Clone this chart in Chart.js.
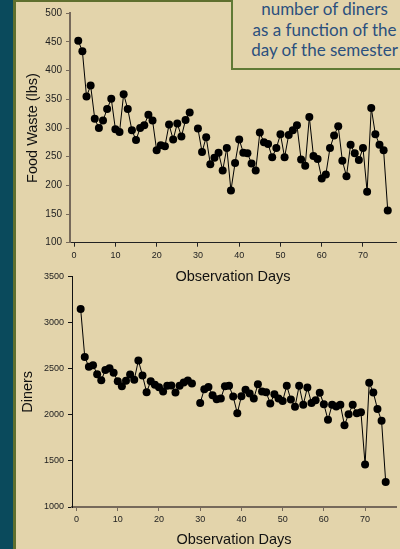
<!DOCTYPE html>
<html>
<head>
<meta charset="utf-8">
<script src="https://cdn.jsdelivr.net/npm/chart.js@4.4.1/dist/chart.umd.min.js"></script>
<style>
  body { margin: 0; width: 400px; height: 549px; background: #e3d4ab; position: relative; overflow: hidden; }
  #strip { position: absolute; left: 0; top: 0; width: 13px; height: 549px; background: #0a4a5c; }
  #stripLine { position: absolute; left: 13px; top: 0; width: 3px; height: 549px; background: #5f6f2e; }
  #topLine { position: absolute; left: 13px; top: 0; width: 220px; height: 2px; background: #5f6f2e; }
  #note { position: absolute; left: 231px; top: -12px; width: 180px; height: 78px; border: 2px solid #607a35; background: #e3d4ab; }
  #noteText { position: absolute; left: 239px; top: -1px; width: 171px; text-align: center; white-space: nowrap;
    font-family: Lato, "Open Sans", sans-serif; font-size: 17px; line-height: 20.5px; color: #2b507e; }
  canvas { position: absolute; left: 0; }
  #wasteChart { top: 0; }
  #dinersChart { top: 260px; }
</style>
</head>
<body>
<div id="strip"></div>
<div id="stripLine"></div>
<div id="topLine"></div>
<div id="note"></div>
<div id="noteText">number of diners<br>as a function of the<br>day of the semester</div>
<canvas id="wasteChart" width="400" height="290"></canvas>
<canvas id="dinersChart" width="400" height="289"></canvas>
<script>
// --- DATA (day 29 has no reading) ---
const days = [1,2,3,4,5,6,7,8,9,10,11,12,13,14,15,16,17,18,19,20,21,22,23,24,25,26,27,28,29,30,
  31,32,33,34,35,36,37,38,39,40,41,42,43,44,45,46,47,48,49,50,51,52,53,54,55,56,57,58,59,60,
  61,62,63,64,65,66,67,68,69,70,71,72,73,74,75,76];

const foodWaste = [452,434,355,374,316,300,313,333,351,298,293,359,333,296,279,300,305,323,313,261,
  270,268,306,280,308,285,314,327,null,299,258,284,237,248,257,226,265,191,239,280,
  257,256,238,226,292,275,272,249,265,289,249,288,296,305,245,234,319,251,246,212,
  219,265,287,303,243,216,271,256,244,265,189,335,289,271,261,156];

const diners = [3149,2627,2522,2540,2442,2377,2486,2507,2457,2366,2312,2370,2438,2380,2591,2428,2246,2366,2326,2301,
  2254,2315,2319,2243,2315,2351,2373,2340,null,2130,2279,2304,2214,2170,2178,2312,2315,2199,2018,2203,
  2272,2232,2178,2333,2254,2247,2123,2225,2178,2152,2315,2166,2087,2315,2109,2297,2130,2160,2239,2116,
  1946,2109,2090,2109,1888,2007,2109,2018,2029,1460,2348,2243,2065,1935,1272];

const dayTicks = [0,10,20,30,40,50,60,70];
const wasteTicks = [100,150,200,250,300,350,400,450,500];
const dinerTicks = [1000,1500,2000,2500,3000,3500];

// --- SHARED CHART BUILDER ---
function buildChart(id, values, cfg) {
    const points = days.map((d, i) => ({ x: d, y: values[i] }));
    const tickFont = { family: '"Liberation Sans", Arial, sans-serif', size: 9 };
    const titleFont = { family: '"Liberation Sans", Arial, sans-serif', size: 14.5 };

    return new Chart(document.getElementById(id), {
        type: 'line',
        data: {
            datasets: [{
                data: points,
                borderColor: '#000',
                borderWidth: 1,
                pointRadius: 4,
                pointBackgroundColor: '#000',
                pointBorderWidth: 0,
                spanGaps: false,
                tension: 0
            }]
        },
        options: {
            responsive: false,
            animation: false,
            layout: { padding: cfg.padding },
            plugins: { legend: { display: false }, tooltip: { enabled: false } },
            scales: {
                x: {
                    type: 'linear',
                    min: cfg.xMin, max: cfg.xMax,
                    afterBuildTicks: s => { s.ticks = dayTicks.map(v => ({ value: v })); },
                    afterFit: s => { s.height = cfg.xHeight; },
                    grid: { drawOnChartArea: false, drawTicks: true, tickLength: 4, tickColor: cfg.xColor },
                    border: { color: cfg.xColor, width: cfg.xWidth },
                    ticks: { autoSkip: false, maxRotation: 0, color: '#222', font: tickFont, padding: 3,
                             callback: v => String(v) },
                    title: { display: true, text: 'Observation Days', color: '#111', font: titleFont,
                             padding: { top: 0, bottom: cfg.xTitlePad } }
                },
                y: {
                    min: cfg.yTicks[0], max: cfg.yTicks[cfg.yTicks.length - 1],
                    afterBuildTicks: s => { s.ticks = cfg.yTicks.map(v => ({ value: v })); },
                    afterFit: s => { s.width = cfg.yWidth; },
                    grid: { drawOnChartArea: false, drawTicks: true, tickLength: 4, tickColor: cfg.yColor },
                    border: { color: cfg.yColor, width: cfg.yBorder },
                    ticks: { color: '#222', font: { family: tickFont.family, size: cfg.yTickSize }, padding: 4,
                             callback: v => String(v) },
                    title: { display: true, text: cfg.yTitle, color: '#111', font: titleFont,
                             padding: { top: cfg.yTitlePad, bottom: 0 } }
                }
            }
        }
    });
}

buildChart('wasteChart', foodWaste, {
    padding: { top: 13.3, right: 2, bottom: 0, left: 0 },
    xMin: -1, xMax: 78, xHeight: 47.3, xTitlePad: 4.3, xColor: '#222', xWidth: 1,
    yTicks: wasteTicks, yWidth: 70, yColor: '#76695a', yBorder: 2, yTickSize: 10,
    yTitle: 'Food Waste (lbs)', yTitlePad: 23.8
});

buildChart('dinersChart', diners, {
    padding: { top: 16.7, right: 2, bottom: 0, left: 0 },
    xMin: -1.1, xMax: 77.5, xHeight: 42, xTitlePad: 0.3, xColor: '#76695a', xWidth: 2,
    yTicks: dinerTicks, yWidth: 72, yColor: '#111', yBorder: 1, yTickSize: 9,
    yTitle: 'Diners', yTitlePad: 19.6
});
</script>
</body>
</html>
